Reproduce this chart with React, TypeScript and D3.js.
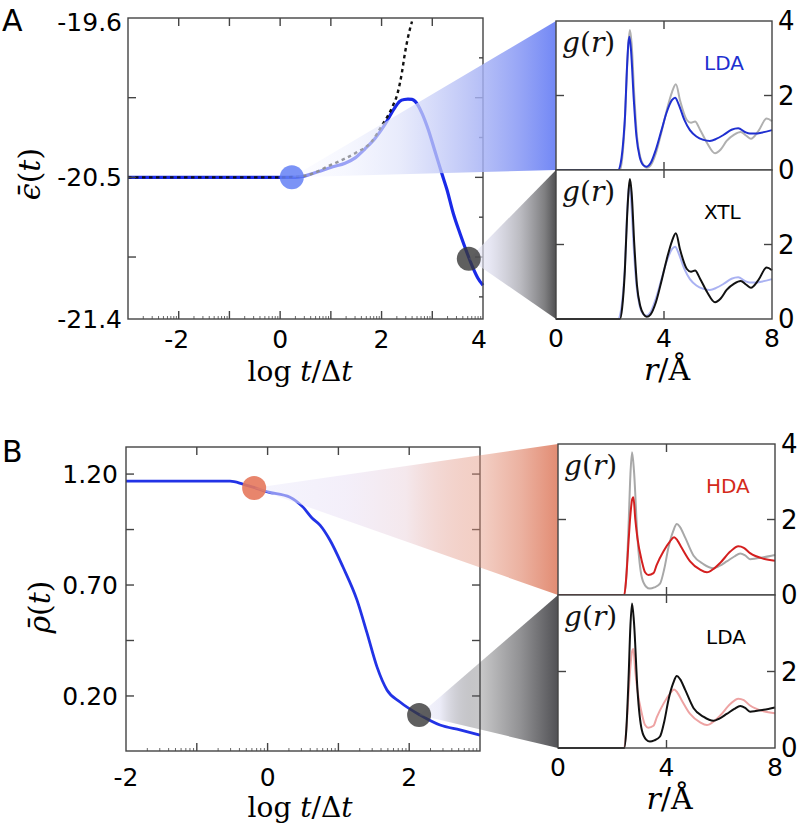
import React from "react";
import * as d3 from "d3";

// ---------- Panel A: energy vs log t ----------
const epsLogT = [-3.0, -1.0, 0.0, 0.3, 0.73, 1.04, 1.28, 1.48, 1.67, 1.87, 2.07, 2.23, 2.36, 2.45, 2.52, 2.6, 2.66, 2.8, 2.92, 3.05, 3.19, 3.29, 3.41, 3.55, 3.69, 3.8, 3.9, 4.0];
const epsVal = [-20.5, -20.5, -20.5, -20.5, -20.47, -20.44, -20.42, -20.39, -20.34, -20.28, -20.2, -20.12, -20.07, -20.06, -20.058, -20.06, -20.07, -20.14, -20.23, -20.35, -20.48, -20.57, -20.7, -20.82, -20.93, -21.01, -21.07, -21.11];
const epsFitLogT = [-3.0, 0.0, 0.5, 1.0, 1.5, 1.8, 2.0, 2.2, 2.32, 2.4, 2.46, 2.52, 2.6];
const epsFitVal = [-20.5, -20.5, -20.49, -20.43, -20.36, -20.3, -20.21, -20.11, -20.02, -19.91, -19.8, -19.71, -19.62];
const epsMarkLogT = [0.23, 3.72];
const epsMarkVal = [-20.5, -20.96];
const epsYTickValues = [-19.6, -20.5, -21.3];
const epsYTickLabels = ["-19.6", "-20.5", "-21.4"];
const epsXTickLabels = [-2, 0, 2, 4];

// ---------- Panel B: density vs log t ----------
const rhoLogT = [-2.0, -0.53, -0.35, -0.206, 0.0, 0.316, 0.5, 0.627, 0.74, 0.88, 1.065, 1.263, 1.404, 1.545, 1.686, 1.87, 2.153, 2.435, 2.718, 3.0];
const rhoVal = [1.168, 1.168, 1.155, 1.141, 1.12, 1.096, 1.051, 1.002, 0.97, 0.903, 0.781, 0.632, 0.484, 0.331, 0.227, 0.173, 0.114, 0.069, 0.047, 0.024];
const rhoMarkLogT = [-0.19, 2.14];
const rhoMarkVal = [1.137, 0.114];
const rhoYTickValues = [1.2, 0.7, 0.2];
const rhoYTickLabels = ["1.20", "0.70", "0.20"];
const rhoXTickLabels = [-2, 0, 2];

// ---------- g(r) curves ----------
const rLDAa = [0, 2.3, 2.4, 2.5, 2.56, 2.62, 2.68, 2.72, 2.78, 2.88, 2.98, 3.1, 3.25, 3.36, 3.5, 3.7, 3.9, 4.1, 4.3, 4.41, 4.55, 4.75, 4.96, 5.2, 5.46, 5.7, 5.95, 6.2, 6.5, 6.75, 7.0, 7.18, 7.4, 7.6, 8.0];
const gLDAa = [0, 0, 0.2, 0.85, 1.5, 2.6, 3.4, 3.58, 3.2, 1.9, 0.9, 0.35, 0.12, 0.09, 0.18, 0.55, 1.05, 1.55, 1.88, 1.94, 1.75, 1.35, 1.07, 0.9, 0.81, 0.78, 0.84, 0.94, 1.08, 1.12, 1.02, 0.98, 0.98, 1.0, 1.07];
const rXTL = [0, 2.37, 2.45, 2.55, 2.63, 2.7, 2.74, 2.8, 2.9, 3.0, 3.12, 3.25, 3.36, 3.5, 3.7, 3.9, 4.1, 4.3, 4.44, 4.6, 4.84, 5.0, 5.15, 5.33, 5.6, 5.89, 6.1, 6.32, 6.6, 6.84, 7.05, 7.22, 7.5, 7.8, 8.0];
const gXTL = [0, 0, 0.3, 1.3, 2.7, 3.55, 3.76, 3.4, 2.0, 0.9, 0.35, 0.12, 0.06, 0.12, 0.45, 1.0, 1.6, 2.1, 2.3, 1.85, 1.35, 1.27, 1.3, 1.09, 0.72, 0.45, 0.55, 0.78, 0.95, 1.02, 0.92, 0.84, 1.05, 1.38, 1.31];
const rHDA = [0, 2.44, 2.52, 2.6, 2.66, 2.74, 2.78, 2.85, 2.93, 3.09, 3.21, 3.33, 3.52, 3.64, 3.89, 4.13, 4.28, 4.4, 4.56, 4.87, 5.24, 5.49, 5.75, 5.98, 6.35, 6.65, 6.85, 7.08, 7.58, 8.0];
const gHDA = [0, 0, 0.5, 1.4, 2.04, 2.55, 2.59, 2.0, 1.5, 0.9, 0.6, 0.53, 0.58, 0.8, 1.16, 1.42, 1.53, 1.45, 1.25, 0.89, 0.67, 0.6, 0.7, 0.85, 1.15, 1.29, 1.25, 1.11, 0.96, 0.91];
const rLDAb = [0, 2.44, 2.52, 2.6, 2.67, 2.73, 2.8, 2.93, 3.09, 3.25, 3.39, 3.55, 3.76, 3.92, 4.07, 4.25, 4.38, 4.5, 4.69, 5.0, 5.36, 5.73, 5.95, 6.22, 6.5, 6.72, 6.9, 7.08, 7.58, 8.0];
const gLDAb = [0, 0, 0.5, 1.8, 3.2, 3.78, 3.3, 1.52, 0.47, 0.22, 0.17, 0.2, 0.3, 0.7, 1.25, 1.7, 1.88, 1.8, 1.52, 1.04, 0.82, 0.71, 0.77, 0.89, 1.02, 1.1, 1.05, 0.95, 1.0, 1.06];
const insetXTicks = [0, 4, 8];
const insetYTicksTop = [4, 2, 0];
const insetYTicksBottom = [2, 0];

const SANS = "DejaVu Sans";
const SERIF = "DejaVu Serif";
const FRAME = "#444";

type Sc = d3.ScaleLinear<number, number>;

function lineOf(xs: number[], ys: number[], x: Sc, y: Sc, curve: any = d3.curveMonotoneX) {
  const pts = xs.map((v, i) => [v, ys[i]] as [number, number]);
  return d3.line<[number, number]>().x(d => x(d[0])).y(d => y(d[1])).curve(curve)(pts) || "";
}

function Frame({ x, y }: { x: Sc; y: Sc }) {
  const [x0, x1] = x.range();
  const [y1, y0] = y.range();
  return <rect x={x0} y={y0} width={x1 - x0} height={y1 - y0} fill="none" stroke={FRAME} strokeWidth={1.4} />;
}

function GLabel({ x, y }: { x: number; y: number }) {
  return (
    <text x={x} y={y} fontFamily={SERIF} fontSize={28} fill="#111">
      <tspan fontStyle="italic">g</tspan>
      <tspan>(</tspan>
      <tspan fontStyle="italic">r</tspan>
      <tspan>)</tspan>
    </text>
  );
}

function Inset({ x, y, curves, label, labelColor, rightTicks, showX }: any) {
  const [x0, x1] = x.range();
  const [yb, yt] = y.range();
  return (
    <g>
      <rect x={x0} y={yt} width={x1 - x0} height={yb - yt} fill="#fff" />
      {curves.map((c: any, i: number) => (
        <path key={i} d={lineOf(c.r, c.g, x, y)} fill="none" stroke={c.color} strokeWidth={c.w} strokeLinejoin="round" />
      ))}
      <Frame x={x} y={y} />
      <line x1={x(4)} x2={x(4)} y1={yt} y2={yt + 8} stroke={FRAME} strokeWidth={1.4} />
      <line x1={x(4)} x2={x(4)} y1={yb} y2={yb - 8} stroke={FRAME} strokeWidth={1.4} />
      <line x1={x0} x2={x0 + 8} y1={y(2)} y2={y(2)} stroke={FRAME} strokeWidth={1.4} />
      <line x1={x1} x2={x1 - 8} y1={y(2)} y2={y(2)} stroke={FRAME} strokeWidth={1.4} />
      {rightTicks.map((t: number) => (
        <text key={t} x={x1 + 6} y={y(t)} dy="0.36em" fontFamily={SANS} fontSize={26} fill="#000">{t}</text>
      ))}
      <GLabel x={x0 + 6} y={yt + 31} />
      <text x={x0 + 148} y={yt + 49} fontFamily={SANS} fontSize={20} fill={labelColor}>{label}</text>
      {showX && insetXTicks.map(t => (
        <text key={t} x={x(t)} y={yb + 28} textAnchor="middle" fontFamily={SANS} fontSize={25} fill="#000">{t}</text>
      ))}
      {showX && (
        <text x={(x0 + x1) / 2 + 3} y={yb + 61} textAnchor="middle" fontFamily={SERIF} fontSize={30} fill="#000">
          <tspan fontStyle="italic">r</tspan>
          <tspan>/Å</tspan>
        </text>
      )}
    </g>
  );
}

function logMinors(lo: number, hi: number) {
  const out: number[] = [];
  for (let k = Math.floor(lo); k < hi; k++) {
    for (let m = 2; m <= 9; m++) {
      const v = k + Math.log10(m);
      if (v > lo && v < hi) out.push(v);
    }
  }
  return out;
}

function Grad({ id, x1, x2, stops }: { id: string; x1: number; x2: number; stops: [number, string, number][] }) {
  return (
    <linearGradient id={id} gradientUnits="userSpaceOnUse" x1={x1} x2={x2} y1={0} y2={0}>
      {stops.map((s, i) => (
        <stop key={i} offset={s[0]} stopColor={s[1]} stopOpacity={s[2]} />
      ))}
    </linearGradient>
  );
}

export default function App() {
  const xA = d3.scaleLinear().domain([-3, 4]).range([128, 483]);
  const yA = d3.scaleLinear().domain([-21.3, -19.6]).range([319, 18]);
  const xB = d3.scaleLinear().domain([-2, 3]).range([126, 480]);
  const yB = d3.scaleLinear().domain([-0.048, 1.322]).range([751, 447]);
  const xIA = d3.scaleLinear().domain([0, 8]).range([556, 772]);
  const yIA1 = d3.scaleLinear().domain([0, 4]).range([170, 21]);
  const yIA2 = d3.scaleLinear().domain([0, 4]).range([319, 170]);
  const xIB = d3.scaleLinear().domain([0, 8]).range([558, 775]);
  const yIB1 = d3.scaleLinear().domain([0, 4]).range([595, 444]);
  const yIB2 = d3.scaleLinear().domain([0, 4]).range([748, 595]);

  const aMajY = [-20.05, -20.5, -20.95];
  const aMinY = [-19.825, -20.275, -20.725, -21.175];
  const aX = d3.range(-2, 4, 1);
  const bY = [1.2, 0.95, 0.7, 0.45, 0.2];
  const bX = d3.range(-1, 3, 1);

  const cA1 = { x: xA(epsMarkLogT[0]), y: yA(epsMarkVal[0]) };
  const cA2 = { x: xA(epsMarkLogT[1]), y: yA(epsMarkVal[1]) };
  const cB1 = { x: xB(rhoMarkLogT[0]), y: yB(rhoMarkVal[0]) };
  const cB2 = { x: xB(rhoMarkLogT[1]), y: yB(rhoMarkVal[1]) };

  const tri = (c: { x: number; y: number }, xi: number, yt: number, yb: number) =>
    `M${c.x},${c.y}L${xi},${yt}L${xi},${yb}Z`;

  const tk = { stroke: FRAME, strokeWidth: 1.4 };
  const gray = "rgb(72,72,76)";
  const red = "rgb(226,140,115)";

  return (
    <svg width={797} height={833} style={{ position: "absolute", left: 0, top: 0, background: "#fff" }}>
      <defs>
        <Grad id="gBlue" x1={cA1.x} x2={556} stops={[[0, "rgb(250,250,255)", 0.5], [0.2, "rgb(240,242,254)", 0.6], [0.41, "rgb(222,226,250)", 0.7], [0.67, "rgb(175,185,245)", 0.8], [0.86, "rgb(140,156,245)", 0.9], [1, "rgb(110,132,245)", 0.97]]} />
        <Grad id="gGrayA" x1={cA2.x} x2={556} stops={[[0, "rgb(235,235,250)", 0.5], [0.24, "rgb(220,220,238)", 0.7], [0.59, "rgb(175,175,182)", 0.85], [0.87, "rgb(120,120,122)", 0.95], [1, "rgb(80,80,82)", 1]]} />
        <Grad id="gRed" x1={cB1.x} x2={558} stops={[[0, "rgb(235,235,252)", 0.5], [0.3, "rgb(236,228,246)", 0.6], [0.5, "rgb(240,222,228)", 0.7], [0.75, red, 0.42], [0.88, red, 0.68], [1, red, 1]]} />
        <Grad id="gGrayB" x1={cB2.x} x2={558} stops={[[0, "rgb(235,235,250)", 0.5], [0.15, "rgb(228,228,245)", 0.7], [0.44, gray, 0.3], [0.73, gray, 0.6], [1, gray, 0.95]]} />
      </defs>

      {/* ===== Panel A ===== */}
      <text x={2} y={31} fontFamily={SANS} fontSize={30} fill="#000">A</text>
      <path d={lineOf(epsLogT, epsVal, xA, yA)} fill="none" stroke="#1a2ae8" strokeWidth={3.2} strokeLinejoin="round" />
      <path d={lineOf(epsFitLogT, epsFitVal, xA, yA)} fill="none" stroke="#111" strokeWidth={2.4} strokeDasharray="3.5,3.5" />
      <Frame x={xA} y={yA} />
      {aX.map(v => (
        <g key={v}>
          <line x1={xA(v)} x2={xA(v)} y1={18} y2={26} {...tk} />
          <line x1={xA(v)} x2={xA(v)} y1={319} y2={311} {...tk} />
        </g>
      ))}
      {logMinors(-3, 4).map((v, i) => (
        <line key={i} x1={xA(v)} x2={xA(v)} y1={319} y2={316} stroke={FRAME} strokeWidth={0.8} />
      ))}
      {aMajY.map(v => (
        <g key={v}>
          <line x1={128} x2={136} y1={yA(v)} y2={yA(v)} {...tk} />
          <line x1={483} x2={475} y1={yA(v)} y2={yA(v)} {...tk} />
        </g>
      ))}
      {aMinY.map(v => (
        <line key={v} x1={483} x2={479} y1={yA(v)} y2={yA(v)} {...tk} />
      ))}
      {epsYTickValues.map((v, i) => (
        <text key={v} x={122} y={yA(v) + (i === 0 ? 4 : 0)} dy="0.36em" textAnchor="end" fontFamily={SANS} fontSize={25} fill="#000">{epsYTickLabels[i]}</text>
      ))}
      {epsXTickLabels.map(v => (
        <text key={v} x={xA(v) - (v < 0 ? 2 : 0) - (v === 4 ? 4 : 0)} y={348} textAnchor="middle" fontFamily={SANS} fontSize={25} fill="#000">{v}</text>
      ))}
      <text x={300} y={381} textAnchor="middle" fontFamily={SERIF} fontSize={28} fill="#000">
        <tspan>log </tspan><tspan fontStyle="italic">t</tspan><tspan>/Δ</tspan><tspan fontStyle="italic">t</tspan>
      </text>
      <text transform="translate(40,174) rotate(-90)" textAnchor="middle" fontFamily={SERIF} fontSize={30} fill="#000">
        <tspan fontStyle="italic">ϵ̄</tspan><tspan>(</tspan><tspan fontStyle="italic">t</tspan><tspan>)</tspan>
      </text>

      <path d={tri(cA1, 556, 21, 170)} fill="url(#gBlue)" />
      <path d={tri(cA2, 556, 170, 319)} fill="url(#gGrayA)" />
      <circle cx={cA1.x} cy={cA1.y} r={12} fill="rgb(100,128,245)" fillOpacity={0.85} />
      <circle cx={cA2.x} cy={cA2.y} r={12} fill="rgb(55,55,55)" fillOpacity={0.8} />

      <Inset x={xIA} y={yIA1} rightTicks={insetYTicksTop} label="LDA" labelColor="#2030d0" showX={false}
        curves={[
          { r: rXTL, g: gXTL, color: "#b0b0b0", w: 2 },
          { r: rLDAa, g: gLDAa, color: "#1f2fd0", w: 2 },
        ]} />
      <Inset x={xIA} y={yIA2} rightTicks={insetYTicksBottom} label="XTL" labelColor="#000" showX={true}
        curves={[
          { r: rLDAa, g: gLDAa, color: "#aab2f2", w: 2 },
          { r: rXTL, g: gXTL, color: "#111", w: 2 },
        ]} />

      {/* ===== Panel B ===== */}
      <text x={2} y={462} fontFamily={SANS} fontSize={30} fill="#000">B</text>
      <path d={lineOf(rhoLogT, rhoVal, xB, yB)} fill="none" stroke="#2233e6" strokeWidth={2.8} strokeLinejoin="round" />
      <Frame x={xB} y={yB} />
      {bX.map(v => (
        <g key={v}>
          <line x1={xB(v)} x2={xB(v)} y1={447} y2={455} {...tk} />
          <line x1={xB(v)} x2={xB(v)} y1={751} y2={743} {...tk} />
        </g>
      ))}
      {logMinors(-2, 3).map((v, i) => (
        <line key={i} x1={xB(v)} x2={xB(v)} y1={751} y2={748} stroke={FRAME} strokeWidth={0.8} />
      ))}
      {bY.map(v => (
        <g key={v}>
          <line x1={126} x2={134} y1={yB(v)} y2={yB(v)} {...tk} />
          <line x1={480} x2={472} y1={yB(v)} y2={yB(v)} {...tk} />
        </g>
      ))}
      {rhoYTickValues.map((v, i) => (
        <text key={v} x={118} y={yB(v)} dy="0.36em" textAnchor="end" fontFamily={SANS} fontSize={25} fill="#000">{rhoYTickLabels[i]}</text>
      ))}
      {rhoXTickLabels.map(v => (
        <text key={v} x={xB(v)} y={786} textAnchor="middle" fontFamily={SANS} fontSize={25} fill="#000">{v}</text>
      ))}
      <text x={300} y={817} textAnchor="middle" fontFamily={SERIF} fontSize={28} fill="#000">
        <tspan>log </tspan><tspan fontStyle="italic">t</tspan><tspan>/Δ</tspan><tspan fontStyle="italic">t</tspan>
      </text>
      <text transform="translate(50,607) rotate(-90)" textAnchor="middle" fontFamily={SERIF} fontSize={30} fill="#000">
        <tspan fontStyle="italic">ρ̄</tspan><tspan>(</tspan><tspan fontStyle="italic">t</tspan><tspan>)</tspan>
      </text>

      <path d={tri(cB1, 558, 444, 595)} fill="url(#gRed)" />
      <path d={tri(cB2, 558, 595, 748)} fill="url(#gGrayB)" />
      <circle cx={cB1.x} cy={cB1.y} r={12} fill="rgb(230,120,92)" fillOpacity={0.9} />
      <circle cx={cB2.x} cy={cB2.y} r={12} fill="rgb(55,55,55)" fillOpacity={0.8} />

      <Inset x={xIB} y={yIB1} rightTicks={insetYTicksTop} label="HDA" labelColor="#d42a1a" showX={false}
        curves={[
          { r: rLDAb, g: gLDAb, color: "#a8a8a8", w: 2 },
          { r: rHDA, g: gHDA, color: "#d41f1f", w: 2 },
        ]} />
      <Inset x={xIB} y={yIB2} rightTicks={insetYTicksBottom} label="LDA" labelColor="#000" showX={true}
        curves={[
          { r: rHDA, g: gHDA, color: "#eea3a3", w: 2 },
          { r: rLDAb, g: gLDAb, color: "#111", w: 2 },
        ]} />
    </svg>
  );
}
